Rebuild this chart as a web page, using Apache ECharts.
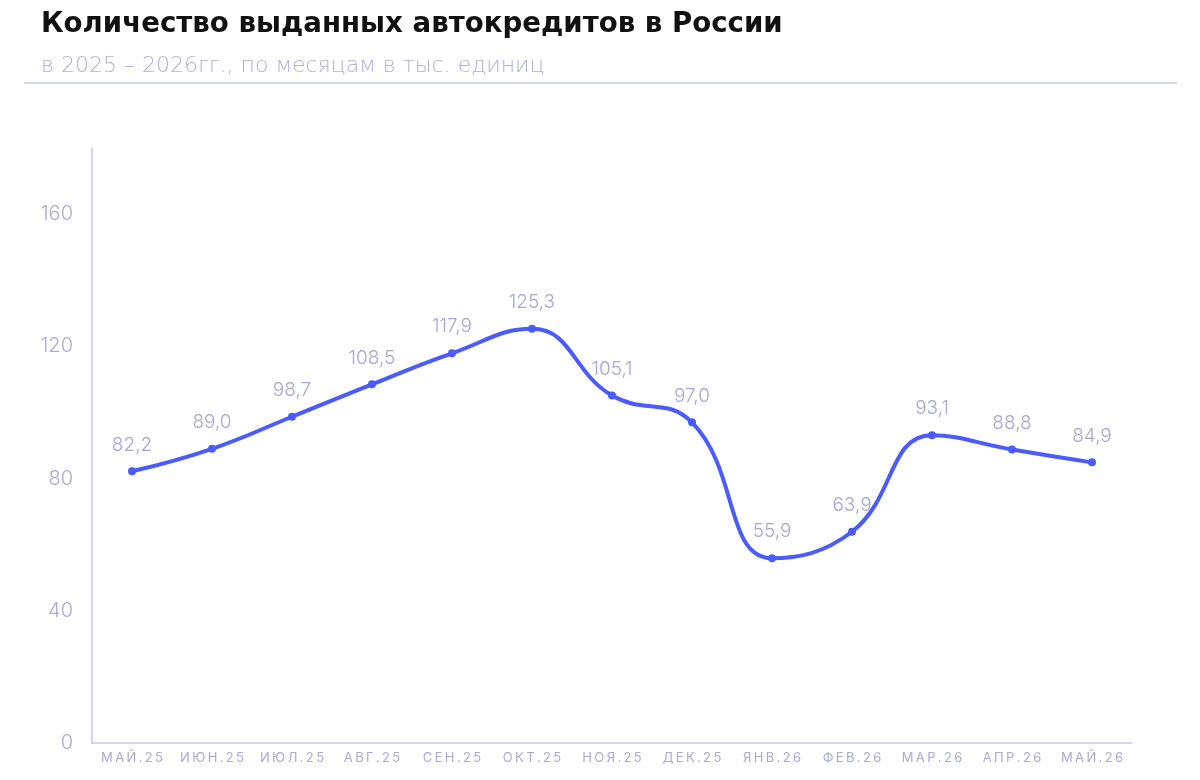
<!DOCTYPE html>
<html><head><meta charset="utf-8">
<script src="https://cdn.jsdelivr.net/npm/echarts@6/dist/echarts.min.js"></script>
<style>html,body{margin:0;padding:0;background:#fff;}#c{width:1200px;height:780px;}</style>
</head><body><div id="c"></div>
<script>
const categories = ['МАЙ.25','ИЮН.25','ИЮЛ.25','АВГ.25','СЕН.25','ОКТ.25','НОЯ.25','ДЕК.25','ЯНВ.26','ФЕВ.26','МАР.26','АПР.26','МАЙ.26'];
const values = [82.2, 89.0, 98.7, 108.5, 117.9, 125.3, 105.1, 97.0, 55.9, 63.9, 93.1, 88.8, 84.9];
const yTicks = [0, 40, 80, 120, 160];
const titleText = 'Количество выданных автокредитов в России';
const subtitleText = 'в 2025 – 2026гг., по месяцам в тыс. единиц';

function fitSize(text, font, weight, target) {
  const ctx = document.createElement('canvas').getContext('2d');
  ctx.font = weight + ' 100px ' + font;
  return 100 * target / ctx.measureText(text).width;
}
const titleSize = fitSize(titleText, '"DejaVu Sans"', 'bold', 742);
const subSize = fitSize(subtitleText, '"DejaVu Sans"', '200', 504);

const chart = echarts.init(document.getElementById('c'));
chart.setOption({
  backgroundColor: '#fff',
  animation: false,
  title: [
    { text: titleText, left: 36, top: 6, textStyle: { fontFamily: 'DejaVu Sans', fontWeight: 'bold', fontSize: titleSize, color: '#111' } },
    { text: subtitleText, left: 36, top: 50, textStyle: { fontFamily: 'DejaVu Sans', fontWeight: 200, fontSize: subSize, color: '#adb1da' } }
  ],
  graphic: [
    { type: 'line', shape: { x1: 24, y1: 83, x2: 1177, y2: 83 }, style: { stroke: '#c6c9e6', lineWidth: 1.5 } }
  ],
  grid: { left: 92, right: 68, top: 148, bottom: 37 },
  xAxis: {
    type: 'category', data: categories, boundaryGap: true,
    axisLine: { lineStyle: { color: '#c3c6e6', width: 1.5 } },
    axisTick: { show: false },
    axisLabel: { interval: 0, color: '#a9acd2', fontFamily: 'Inter', fontSize: 13, margin: 9,
      formatter: v => v.split('').join('\u2009') }
  },
  yAxis: {
    type: 'value', min: 0, max: 180, interval: 40,
    axisLine: { show: true, lineStyle: { color: '#c3c6e6', width: 1.5 } },
    axisTick: { show: false },
    splitLine: { show: false },
    axisLabel: { color: '#a9acd2', fontFamily: 'Inter', fontWeight: 300, fontSize: 20, margin: 19, showMaxLabel: false,
      formatter: v => (yTicks.indexOf(v) >= 0 ? String(v) : '') }
  },
  series: [{
    type: 'line', data: values, smooth: 0.45,
    symbol: 'circle', symbolSize: 8,
    lineStyle: { color: '#4a5bff', width: 4 },
    itemStyle: { color: '#4a5bff' },
    label: { show: true, position: 'top', distance: 13, color: '#a4a8d2', fontFamily: 'Inter', fontWeight: 300, fontSize: 19,
      formatter: p => p.value.toFixed(1).replace('.', ',') }
  }]
});
</script></body></html>
